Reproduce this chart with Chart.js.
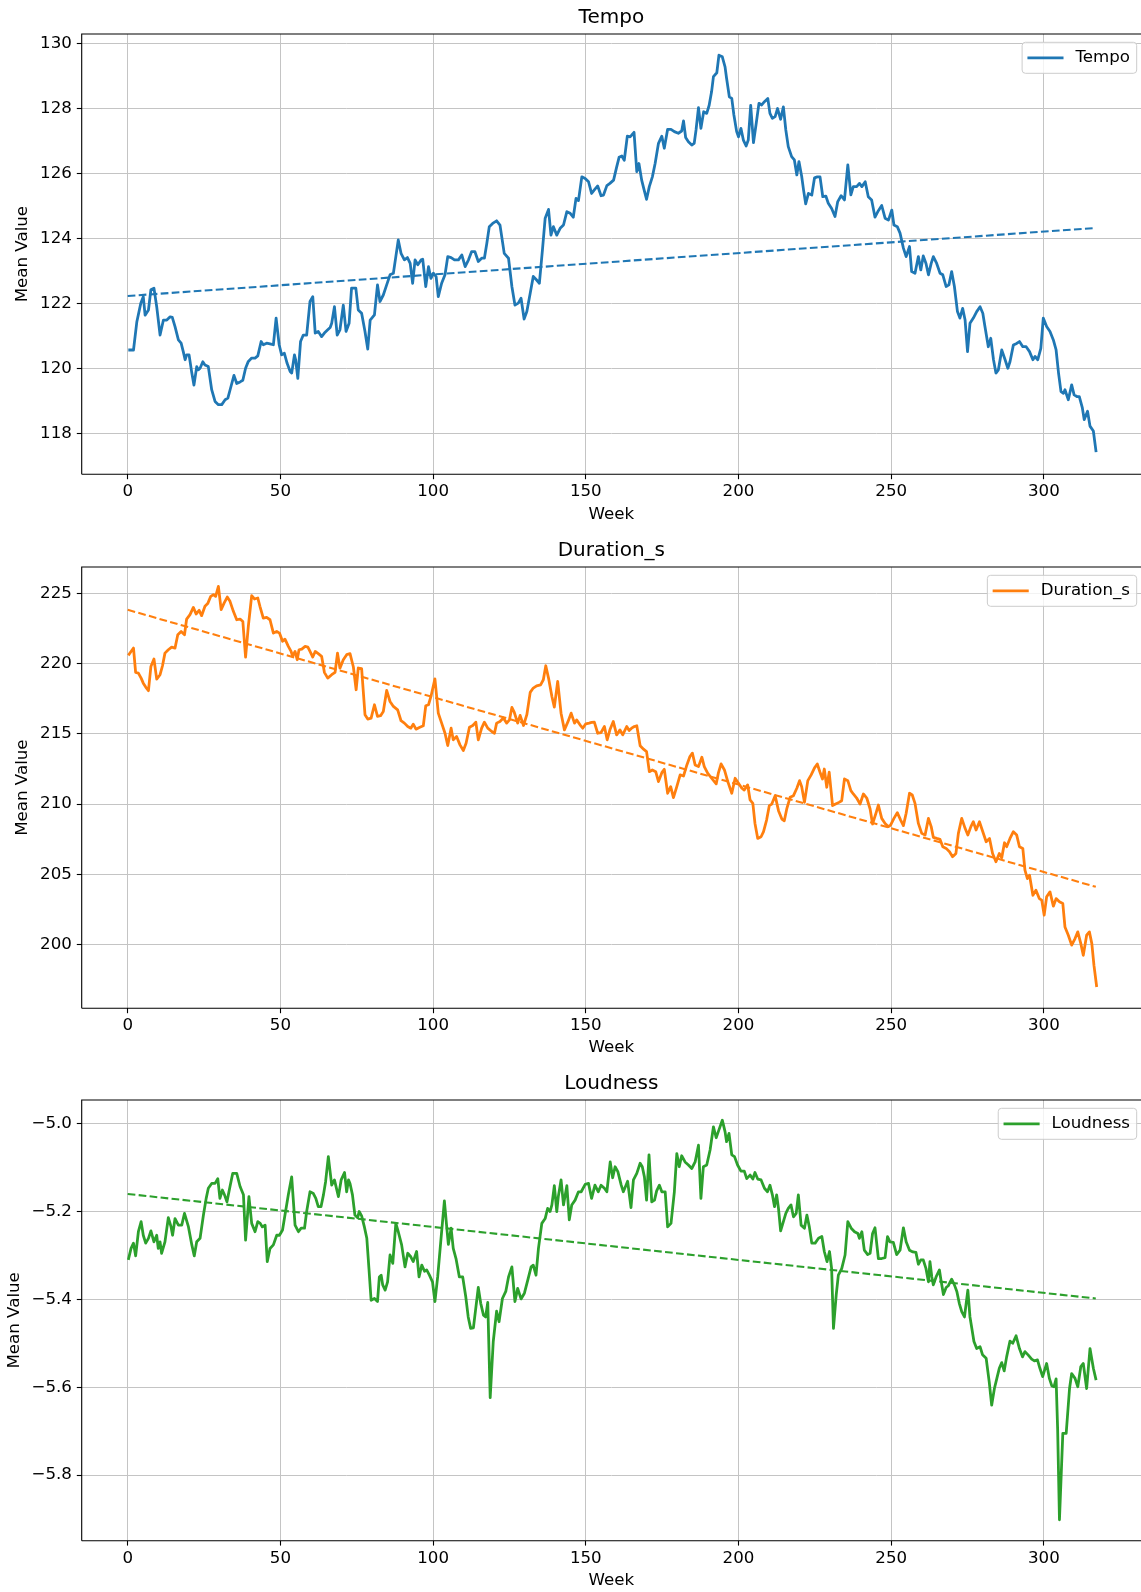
<!DOCTYPE html>
<html>
<head>
<meta charset="utf-8">
<script src="https://cdn.jsdelivr.net/npm/chart.js@4.4.1/dist/chart.umd.min.js"></script>
<style>
html,body{margin:0;padding:0;background:#fff;overflow:hidden;width:1141px;height:1592px;}
canvas{position:absolute;left:0;display:block;}
</style>
</head>
<body>
<canvas id="c1" width="1141" height="526" style="top:0px"></canvas>
<canvas id="c2" width="1141" height="526" style="top:533px"></canvas>
<canvas id="c3" width="1141" height="526" style="top:1066px"></canvas>
<script>
// ---------- DATA ----------
const xTicks = [0, 50, 100, 150, 200, 250, 300];
const tempoTicks = [118, 120, 122, 124, 126, 128, 130];
const durationTicks = [200, 205, 210, 215, 220, 225];
const loudnessTicks = [-5.8, -5.6, -5.4, -5.2, -5.0];
const trendWeeks = [0, 317];
const tempoTrend = [122.24, 124.33];
const durationTrend = [223.85, 204.10];
const loudnessTrend = [-5.160, -5.398];

const tempoWeeks = [0.2,1.9,3.0,4.3,5.1,5.7,6.8,7.6,8.6,9.5,10.6,11.7,12.8,13.9,14.6,15.5,16.6,17.5,18.2,18.8,19.3,20.1,21.0,21.7,22.6,23.1,23.7,24.6,25.3,26.4,27.5,28.6,29.7,30.8,31.9,32.8,33.8,34.8,35.7,36.8,37.7,38.6,39.5,40.6,41.7,42.6,43.7,44.4,45.5,46.6,47.7,48.6,49.6,50.4,51.3,52.2,53.2,53.7,54.6,55.0,55.7,56.6,57.5,58.6,59.7,60.6,61.4,62.4,63.5,64.4,65.5,66.3,66.8,67.7,68.6,69.5,70.6,71.5,72.5,73.3,74.7,75.5,76.6,77.7,78.6,79.4,80.8,81.8,82.6,83.7,84.8,85.9,87.0,87.8,88.6,89.5,90.6,91.6,92.5,93.3,94.1,95.0,96.1,96.6,97.6,98.5,99.3,100.1,101.0,101.7,102.8,103.9,104.8,105.9,107.0,108.3,109.4,110.5,111.6,112.6,113.7,114.8,115.9,116.8,117.6,118.4,119.5,120.8,121.9,123.3,124.7,125.8,126.8,127.9,128.8,129.8,130.7,131.8,132.8,133.9,134.8,135.8,136.7,137.8,138.6,139.4,140.5,141.6,142.7,143.8,144.9,145.9,146.8,147.6,148.7,149.8,150.9,151.9,153.0,153.9,155.0,155.8,156.9,157.9,159.1,160.1,160.9,161.8,162.6,163.6,164.5,165.0,165.8,166.7,167.4,168.3,169.1,169.9,170.8,171.8,172.7,173.8,174.9,175.7,176.8,177.9,179.0,180.3,181.4,182.0,182.7,183.6,184.7,185.5,186.1,186.9,187.7,188.6,189.6,190.4,191.2,191.8,192.9,193.6,194.7,195.6,196.1,197.0,197.8,198.5,199.4,200.0,200.8,201.6,202.5,203.2,204.0,204.9,205.8,206.7,207.6,208.5,209.6,210.3,211.1,212.0,212.8,213.8,214.7,215.5,216.3,217.4,218.3,219.1,219.8,220.7,221.3,222.0,222.9,224.0,224.9,225.8,226.7,227.6,228.6,229.4,230.5,231.6,232.5,233.6,234.7,235.8,236.8,237.6,238.7,239.6,240.4,241.5,242.5,243.6,244.7,245.8,246.9,248.0,249.1,250.2,250.9,252.0,252.9,254.0,254.9,256.0,256.7,257.8,258.9,259.7,260.5,261.4,262.2,263.1,263.8,264.9,266.0,266.9,268.0,268.9,269.8,270.7,271.7,272.5,273.4,274.2,275.0,275.8,276.9,278.0,279.1,280.0,280.7,281.8,282.6,283.5,284.3,285.1,286.2,287.3,288.2,288.9,290.0,291.1,292.0,293.1,294.2,295.3,296.4,297.1,298.0,299.0,299.8,300.9,302.0,303.1,304.0,304.8,305.6,306.4,306.9,308.0,309.1,309.9,310.8,311.6,312.6,313.2,314.3,315.1,316.2,317.1];
const tempoValues = [120.58,120.58,121.45,122.02,122.22,121.65,121.81,122.43,122.48,121.91,121.04,121.50,121.50,121.60,121.58,121.30,120.89,120.79,120.53,120.28,120.43,120.43,119.87,119.50,120.07,119.97,120.02,120.22,120.12,120.07,119.36,119.00,118.90,118.90,119.05,119.10,119.45,119.80,119.55,119.60,119.65,120.02,120.23,120.33,120.33,120.40,120.84,120.74,120.79,120.77,120.74,121.56,120.74,120.43,120.48,120.17,119.92,119.87,120.43,120.28,119.71,120.84,121.04,121.04,122.07,122.22,121.10,121.15,120.99,121.10,121.20,121.27,121.40,121.91,121.04,121.20,121.96,121.15,121.40,122.48,122.48,121.81,121.71,121.15,120.61,121.50,121.66,122.58,122.07,122.27,122.58,122.89,122.94,123.45,123.96,123.55,123.35,123.42,123.24,122.63,123.35,123.20,123.35,123.37,122.53,123.14,122.78,122.94,122.83,122.22,122.63,122.89,123.45,123.42,123.35,123.35,123.50,123.14,123.35,123.60,123.60,123.30,123.40,123.40,123.86,124.37,124.47,124.55,124.42,123.55,123.40,122.53,121.96,122.02,122.17,121.53,121.76,122.32,122.84,122.73,122.63,123.65,124.63,124.90,124.11,124.37,124.11,124.32,124.42,124.83,124.78,124.66,125.24,125.17,125.90,125.85,125.75,125.39,125.52,125.62,125.32,125.34,125.63,125.70,125.80,126.20,126.50,126.54,126.41,127.15,127.13,127.18,127.27,126.06,126.31,125.80,125.50,125.21,125.60,125.90,126.31,126.93,127.15,126.78,127.36,127.36,127.29,127.24,127.31,127.62,127.11,126.98,126.88,126.93,127.34,128.03,127.39,127.90,127.85,128.10,128.52,128.98,129.10,129.64,129.59,129.28,128.93,128.36,128.31,127.80,127.29,127.13,127.39,127.03,126.85,127.03,128.10,126.95,127.54,128.16,128.11,128.21,128.31,127.85,127.70,127.75,128.00,127.67,128.05,127.34,126.83,126.52,126.42,125.96,126.37,125.91,125.50,125.07,125.39,125.34,125.87,125.90,125.90,125.29,125.31,125.09,124.93,124.68,125.14,125.32,125.19,126.27,125.35,125.60,125.60,125.70,125.60,125.75,125.29,125.19,124.66,124.86,125.02,124.63,124.57,124.88,124.42,124.37,124.17,123.71,123.45,123.76,122.99,122.94,123.45,123.04,123.47,123.24,122.89,123.24,123.45,123.24,122.94,122.89,122.53,122.58,122.99,122.53,121.76,121.56,121.86,121.50,120.53,121.40,121.56,121.76,121.91,121.71,121.30,120.68,120.94,120.28,119.87,119.97,120.58,120.28,120.02,120.22,120.73,120.78,120.84,120.68,120.68,120.53,120.28,120.38,120.28,120.63,121.56,121.30,121.15,120.89,120.58,119.87,119.30,119.25,119.36,119.05,119.51,119.20,119.15,119.15,118.80,118.44,118.70,118.24,118.09,117.44];

const durationWeeks = [0.2,1.1,1.9,2.6,3.5,4.4,5.1,5.9,6.8,7.6,8.6,9.5,10.6,11.4,12.2,13.3,14.4,15.5,16.4,17.5,18.6,19.3,20.4,21.5,22.4,23.4,24.2,25.3,26.2,27.2,28.1,28.8,29.7,30.6,31.6,32.6,33.5,34.6,35.7,36.8,37.7,38.6,39.5,40.6,41.5,42.6,43.3,44.4,45.5,46.6,47.7,48.8,49.7,50.7,51.5,52.6,53.5,54.0,54.8,55.5,56.1,57.0,58.1,59.0,59.7,60.6,61.4,62.4,63.5,64.4,65.5,66.8,67.9,68.7,69.5,70.6,71.7,72.8,73.9,74.8,75.5,76.6,77.7,78.6,79.7,80.8,81.8,82.8,83.7,84.8,85.9,87.0,88.4,89.5,90.6,91.7,92.7,93.5,94.4,95.5,96.8,97.6,98.5,99.3,100.6,101.7,102.8,103.9,104.8,105.9,106.6,107.7,108.8,109.9,110.8,111.9,113.0,114.0,114.8,115.9,116.8,117.9,119.2,120.1,120.8,121.9,123.0,124.1,125.0,125.8,126.6,127.7,128.5,129.6,130.7,131.8,132.8,133.9,135.2,136.1,136.9,137.8,138.9,139.7,140.8,141.9,143.0,144.1,145.2,146.3,147.0,148.1,149.0,150.0,151.1,151.9,152.8,153.9,155.0,156.1,157.0,157.9,159.0,160.1,161.2,162.1,163.4,164.2,165.0,165.9,166.7,167.8,168.9,169.9,170.8,171.8,172.9,173.8,174.9,175.7,176.8,177.8,178.7,179.8,180.9,182.0,183.1,184.1,184.9,185.8,186.9,188.0,188.8,189.9,191.2,192.7,193.4,194.3,195.4,196.5,197.8,198.9,200.0,201.1,201.9,203.0,203.8,204.7,205.4,206.3,207.4,208.2,209.2,210.1,210.9,212.0,213.1,214.2,215.0,215.8,216.9,218.0,219.1,220.0,220.7,221.6,222.7,223.8,224.9,225.8,226.7,227.5,228.1,228.9,229.7,230.8,231.8,232.9,233.8,234.7,235.8,236.8,237.6,238.7,239.8,240.9,242.0,243.1,243.9,245.0,245.8,246.9,248.0,249.1,249.8,250.9,252.0,253.1,254.0,254.9,256.0,256.9,257.8,258.9,260.0,261.1,262.2,263.1,263.8,264.9,266.0,266.9,268.0,269.1,270.1,271.2,272.0,273.1,274.2,275.1,276.1,276.9,277.8,278.9,280.0,281.1,282.2,283.2,284.3,285.4,286.2,287.1,287.8,288.9,290.0,291.1,292.0,293.1,293.8,294.6,295.3,296.4,297.4,298.5,299.3,300.1,300.9,302.0,303.1,304.0,305.1,306.2,306.9,308.0,309.1,310.2,311.1,312.1,312.9,314.0,314.9,315.7,316.4,317.3];
const durationValues = [220.60,220.88,221.12,219.38,219.33,218.98,218.62,218.34,218.08,219.81,220.34,218.91,219.22,219.86,220.76,221.00,221.19,221.12,222.07,222.30,222.07,223.19,223.50,224.02,223.55,223.81,223.43,224.10,224.29,224.81,224.93,224.81,225.52,223.86,224.34,224.76,224.45,223.74,223.14,223.19,223.02,220.48,222.67,224.86,224.62,224.69,224.10,223.26,223.31,223.14,222.19,222.31,222.19,221.60,221.76,221.24,220.88,220.53,220.88,220.29,221.00,221.05,221.24,221.19,220.88,220.48,220.88,220.72,220.53,219.39,218.98,219.22,219.39,220.76,219.69,220.29,220.65,220.72,219.77,218.15,219.70,219.65,216.37,216.06,216.13,217.08,216.25,216.30,216.60,218.10,217.31,216.96,216.72,215.94,215.77,215.53,215.41,215.70,215.34,215.46,215.58,217.01,217.08,217.67,218.93,216.48,215.77,215.05,214.17,215.41,214.58,214.82,214.22,213.82,214.34,215.48,215.60,215.84,214.58,215.41,215.84,215.41,215.17,215.05,215.77,215.89,216.13,215.77,216.00,216.89,216.53,215.77,216.32,215.60,216.37,217.96,218.27,218.43,218.50,218.86,219.86,218.98,217.67,216.91,218.74,216.48,215.29,215.84,216.48,215.77,216.00,215.65,215.41,215.72,215.77,215.82,215.84,215.05,215.10,215.53,214.58,215.29,215.89,214.93,215.29,214.93,215.53,215.24,215.41,215.53,215.58,214.15,213.91,213.74,212.31,212.43,212.31,211.60,212.24,212.48,210.77,211.24,210.46,211.24,212.08,212.00,212.79,213.39,213.63,212.79,212.67,213.34,212.67,212.20,211.84,211.44,212.20,212.86,212.43,211.60,210.77,211.84,211.48,211.13,211.00,211.37,210.29,210.05,208.62,207.55,207.67,208.03,208.86,209.89,210.00,210.60,209.53,208.93,208.81,209.65,210.48,210.60,211.13,211.67,211.24,210.12,211.67,212.08,212.58,212.86,212.27,211.79,212.50,211.20,212.27,209.89,210.00,210.12,210.24,211.79,211.67,210.96,210.72,210.43,210.00,210.72,210.43,209.65,208.58,209.34,209.93,208.98,208.62,208.39,208.50,208.98,209.39,208.86,208.46,209.34,210.77,210.65,210.05,208.62,207.91,207.79,208.98,208.39,207.63,207.55,207.48,206.96,206.84,206.60,206.25,206.48,207.91,208.98,208.27,207.79,208.39,208.74,208.15,208.74,208.03,207.31,207.55,206.48,205.89,206.48,206.17,207.24,206.96,207.55,208.03,207.79,206.96,206.84,205.29,204.69,204.93,203.50,203.86,203.26,203.15,202.08,203.39,203.74,202.72,203.26,203.03,202.91,201.24,200.65,199.94,200.41,200.89,200.05,199.22,200.65,200.89,200.05,198.50,196.96];

const loudnessWeeks = [0.2,1.1,1.9,2.6,3.5,4.4,5.1,5.9,6.8,7.6,8.6,9.5,10.0,10.6,11.1,12.2,13.3,14.2,14.7,15.5,16.6,17.7,18.6,19.9,21.0,21.8,22.6,23.7,24.8,25.7,26.4,27.5,28.6,29.5,30.2,31.0,31.7,32.5,33.5,34.4,35.7,36.8,37.9,38.6,39.7,40.6,41.7,42.6,43.4,44.1,45.0,45.7,46.6,47.7,48.8,49.7,50.7,51.5,52.6,53.7,54.8,55.9,56.8,57.9,58.6,59.7,60.8,61.6,62.4,63.3,64.1,64.8,65.7,66.8,67.7,69.0,69.9,71.0,71.7,72.3,72.8,73.6,74.4,75.3,75.8,76.6,77.5,78.3,79.0,79.7,80.8,81.8,82.4,83.0,83.5,84.3,85.1,85.9,86.8,87.8,88.6,89.7,90.8,91.7,92.7,93.5,94.6,95.4,96.3,97.2,97.9,98.8,99.8,100.6,101.5,102.6,103.7,104.5,105.0,105.9,106.6,107.5,108.6,109.7,110.7,111.5,112.3,113.2,114.1,114.8,115.6,116.5,117.2,117.9,118.7,119.7,120.8,121.6,122.7,123.8,124.7,125.8,126.8,127.7,128.8,129.9,131.0,132.1,132.8,133.7,134.5,135.6,136.7,137.5,138.3,138.9,139.7,140.5,141.0,141.9,142.7,143.8,144.6,145.4,146.5,147.6,148.5,149.8,150.9,151.9,153.0,154.1,155.0,156.1,156.9,158.0,158.8,159.6,160.5,161.6,162.3,163.7,164.8,165.6,166.7,167.8,168.5,169.2,169.9,170.7,171.6,172.5,173.2,174.1,174.9,176.0,176.8,177.9,179.0,179.8,180.6,181.4,182.5,183.6,184.7,185.8,186.9,187.7,188.5,189.6,190.7,191.8,192.7,193.4,194.7,195.6,196.1,196.9,197.8,198.7,199.7,200.8,201.9,202.7,203.8,204.7,205.4,206.3,207.4,208.5,209.5,210.3,211.1,211.8,212.5,213.1,213.8,214.7,215.5,216.3,217.2,218.0,218.9,219.6,220.5,221.6,222.4,223.2,224.0,225.1,226.2,227.3,228.1,229.0,229.8,230.5,231.1,232.0,232.7,233.8,234.9,235.8,236.9,238.0,239.1,239.6,240.4,241.2,242.3,243.1,243.9,244.7,245.8,246.9,248.0,248.8,249.6,250.7,251.8,252.9,254.0,254.9,256.0,257.1,258.1,258.9,259.7,260.5,261.4,262.2,262.7,263.3,263.8,264.7,265.8,266.3,267.1,268.0,268.7,269.8,270.7,271.5,272.3,273.1,274.0,275.1,275.8,276.4,277.1,278.0,279.1,279.9,281.1,282.1,282.9,283.8,284.6,285.4,286.2,287.0,287.8,288.9,289.8,290.9,292.0,293.0,293.8,294.9,296.0,296.9,297.9,298.7,299.6,300.9,301.8,302.6,303.3,304.0,304.5,305.1,306.2,307.3,308.4,309.1,310.2,311.1,312.1,312.9,314.0,315.1,316.2,317.1];
const loudnessValues = [-5.310,-5.284,-5.272,-5.301,-5.246,-5.223,-5.254,-5.272,-5.261,-5.244,-5.269,-5.254,-5.284,-5.269,-5.295,-5.269,-5.214,-5.235,-5.254,-5.216,-5.231,-5.231,-5.204,-5.235,-5.276,-5.301,-5.269,-5.261,-5.208,-5.170,-5.147,-5.136,-5.136,-5.125,-5.170,-5.151,-5.162,-5.178,-5.143,-5.113,-5.113,-5.143,-5.162,-5.265,-5.166,-5.227,-5.246,-5.223,-5.227,-5.235,-5.231,-5.314,-5.284,-5.276,-5.254,-5.254,-5.242,-5.208,-5.162,-5.121,-5.231,-5.246,-5.238,-5.238,-5.200,-5.155,-5.159,-5.170,-5.189,-5.189,-5.162,-5.132,-5.075,-5.140,-5.128,-5.166,-5.128,-5.111,-5.155,-5.128,-5.136,-5.162,-5.208,-5.214,-5.200,-5.210,-5.235,-5.261,-5.330,-5.402,-5.398,-5.405,-5.349,-5.345,-5.367,-5.379,-5.360,-5.299,-5.318,-5.227,-5.246,-5.276,-5.326,-5.295,-5.303,-5.314,-5.291,-5.349,-5.322,-5.336,-5.333,-5.345,-5.360,-5.405,-5.349,-5.261,-5.176,-5.238,-5.275,-5.238,-5.284,-5.307,-5.349,-5.349,-5.394,-5.440,-5.466,-5.465,-5.413,-5.373,-5.409,-5.436,-5.440,-5.407,-5.624,-5.496,-5.427,-5.451,-5.398,-5.382,-5.349,-5.326,-5.405,-5.375,-5.399,-5.386,-5.356,-5.326,-5.322,-5.345,-5.284,-5.227,-5.216,-5.193,-5.200,-5.185,-5.141,-5.200,-5.166,-5.128,-5.185,-5.141,-5.219,-5.185,-5.174,-5.155,-5.155,-5.138,-5.136,-5.170,-5.140,-5.155,-5.140,-5.147,-5.155,-5.087,-5.123,-5.098,-5.109,-5.140,-5.155,-5.131,-5.191,-5.128,-5.113,-5.090,-5.098,-5.121,-5.174,-5.071,-5.178,-5.174,-5.153,-5.140,-5.155,-5.155,-5.235,-5.227,-5.155,-5.068,-5.098,-5.073,-5.087,-5.094,-5.102,-5.087,-5.049,-5.170,-5.098,-5.094,-5.060,-5.007,-5.032,-5.018,-4.992,-5.018,-5.041,-5.022,-5.071,-5.075,-5.094,-5.108,-5.108,-5.125,-5.117,-5.126,-5.111,-5.126,-5.128,-5.147,-5.155,-5.140,-5.162,-5.189,-5.162,-5.193,-5.244,-5.223,-5.204,-5.193,-5.185,-5.212,-5.204,-5.162,-5.231,-5.238,-5.208,-5.235,-5.272,-5.272,-5.261,-5.257,-5.291,-5.314,-5.291,-5.330,-5.466,-5.390,-5.345,-5.330,-5.299,-5.223,-5.238,-5.246,-5.250,-5.261,-5.246,-5.288,-5.298,-5.295,-5.250,-5.237,-5.307,-5.307,-5.305,-5.257,-5.269,-5.270,-5.298,-5.288,-5.237,-5.269,-5.288,-5.292,-5.293,-5.320,-5.310,-5.310,-5.330,-5.360,-5.314,-5.349,-5.367,-5.349,-5.333,-5.356,-5.389,-5.373,-5.369,-5.354,-5.367,-5.382,-5.409,-5.428,-5.440,-5.379,-5.440,-5.466,-5.496,-5.512,-5.508,-5.526,-5.534,-5.588,-5.641,-5.603,-5.580,-5.557,-5.544,-5.563,-5.531,-5.495,-5.500,-5.483,-5.512,-5.531,-5.519,-5.527,-5.536,-5.540,-5.538,-5.557,-5.576,-5.546,-5.580,-5.597,-5.599,-5.581,-5.694,-5.902,-5.705,-5.705,-5.603,-5.569,-5.580,-5.599,-5.553,-5.546,-5.603,-5.512,-5.557,-5.584];

// ---------- STYLE / LAYOUT ----------
const FONT = "'DejaVu Sans', 'Liberation Sans', sans-serif";
const FS = 16.67;
Chart.defaults.font.family = FONT;
Chart.defaults.color = '#000';

function pts(xs, ys) { return xs.map((x, i) => ({ x: x, y: ys[i] })); }

function roundRectPath(ctx, x, y, w, h, r) {
  ctx.beginPath();
  ctx.moveTo(x + r, y);
  ctx.lineTo(x + w - r, y);
  ctx.arcTo(x + w, y, x + w, y + r, r);
  ctx.lineTo(x + w, y + h - r);
  ctx.arcTo(x + w, y + h, x + w - r, y + h, r);
  ctx.lineTo(x + r, y + h);
  ctx.arcTo(x, y + h, x, y + h - r, r);
  ctx.lineTo(x, y + r);
  ctx.arcTo(x, y, x + r, y, r);
  ctx.closePath();
}

const framePlugin = {
  id: 'mplFrame',
  afterDatasetsDraw(chart) {
    const { ctx, chartArea: a } = chart;
    ctx.save();
    // spines
    ctx.strokeStyle = '#000';
    ctx.lineWidth = 1.1;
    ctx.beginPath();
    ctx.moveTo(a.left, a.bottom); ctx.lineTo(a.left, a.top); ctx.lineTo(a.right + 2, a.top);
    ctx.moveTo(a.left, a.bottom); ctx.lineTo(a.right + 2, a.bottom);
    ctx.stroke();
    // legend (upper right)
    const ds = chart.data.datasets[0];
    ctx.font = FS + 'px ' + FONT;
    const tw = ctx.measureText(ds.label).width;
    const padL = 6.7, hl = 33.3, gap = 13.3, padR = 6.7;
    const w = padL + hl + gap + tw + padR;
    const h = 31;
    const right = 1136.7;
    const left = right - w;
    const top = a.top + 8.3;
    roundRectPath(ctx, left, top, w, h, 3.3);
    ctx.fillStyle = 'rgba(255,255,255,0.8)';
    ctx.fill();
    ctx.strokeStyle = '#cccccc';
    ctx.lineWidth = 1;
    ctx.stroke();
    const cy = top + h / 2;
    ctx.beginPath();
    ctx.moveTo(left + padL, cy);
    ctx.lineTo(left + padL + hl, cy);
    ctx.lineCap = 'square';
    ctx.lineWidth = 2.78;
    ctx.strokeStyle = ds.borderColor;
    ctx.stroke();
    ctx.fillStyle = '#000';
    ctx.textAlign = 'left';
    ctx.textBaseline = 'middle';
    ctx.fillText(ds.label, left + padL + hl + gap, cy);
    ctx.restore();
  }
};

function makeChart(id, o) {
  return new Chart(document.getElementById(id), {
    type: 'line',
    data: {
      datasets: [
        { label: o.name, data: pts(o.weeks, o.values), borderColor: o.color, borderWidth: 2.78,
          pointRadius: 0, fill: false, tension: 0, borderJoinStyle: 'round', borderCapStyle: 'butt', order: 2 },
        { label: o.name + ' trend', data: pts(trendWeeks, o.trend), borderColor: o.color, borderWidth: 2.08,
          borderDash: [7.7, 3.33], pointRadius: 0, fill: false, tension: 0, order: 1 }
      ]
    },
    options: {
      responsive: false, animation: false, devicePixelRatio: 1, events: [],
      layout: { padding: { left: 0, right: 0, top: 0, bottom: 0 } },
      plugins: {
        legend: { display: false },
        tooltip: { enabled: false },
        title: { display: true, text: o.name, color: '#000', fullSize: false,
                 font: { family: FONT, size: 20, weight: 'normal', lineHeight: 1.2 },
                 padding: { top: 5.3, bottom: 4.7 } }
      },
      scales: {
        x: {
          type: 'linear', min: -15.06, max: 331.8,
          afterBuildTicks: s => { s.ticks = xTicks.map(v => ({ value: v })); },
          afterFit: s => { s.height = o.xH; },
          grid: { color: '#c4c4c4', lineWidth: 1, drawTicks: true, tickLength: 4.9, tickColor: '#000', tickWidth: 1.1 },
          border: { display: false },
          ticks: { color: '#000', font: { size: FS }, padding: 2.8, maxRotation: 0, autoSkip: false,
                   callback: v => String(v) },
          title: { display: true, text: 'Week', color: '#000', font: { size: FS, lineHeight: 1.2 },
                   padding: { top: 0, bottom: 1.3 } }
        },
        y: {
          type: 'linear', min: o.yMin, max: o.yMax,
          afterBuildTicks: s => { s.ticks = o.yTicks.map(v => ({ value: v })); },
          afterFit: s => { s.width = 81.7; },
          grid: { color: '#c4c4c4', lineWidth: 1, drawTicks: true, tickLength: 4.9, tickColor: '#000', tickWidth: 1.1 },
          border: { display: false },
          ticks: { color: '#000', font: { size: FS }, padding: 4.9, autoSkip: false, callback: o.fmt },
          title: { display: true, text: 'Mean Value', color: '#000', font: { size: FS, lineHeight: 1.2 },
                   padding: { top: o.yTitlePad, bottom: 0 } }
        }
      }
    },
    plugins: [framePlugin]
  });
}

const intFmt = v => String(Math.round(v));
const decFmt = v => (v < 0 ? '\u2212' : '') + Math.abs(v).toFixed(1);

makeChart('c1', { name: 'Tempo', weeks: tempoWeeks, values: tempoValues, trend: tempoTrend,
  color: '#1f77b4', yMin: 116.76, yMax: 130.29, yTicks: tempoTicks, fmt: intFmt, xH: 51.7, yTitlePad: 12.3 });
makeChart('c2', { name: 'Duration_s', weeks: durationWeeks, values: durationValues, trend: durationTrend,
  color: '#ff7f0e', yMin: 195.44, yMax: 226.90, yTicks: durationTicks, fmt: intFmt, xH: 50.7, yTitlePad: 12.3 });
makeChart('c3', { name: 'Loudness', weeks: loudnessWeeks, values: loudnessValues, trend: loudnessTrend,
  color: '#2ca02c', yMin: -5.9496, yMax: -4.946, yTicks: loudnessTicks, fmt: decFmt, xH: 51.3, yTitlePad: 4.2 });
</script>
</body>
</html>
